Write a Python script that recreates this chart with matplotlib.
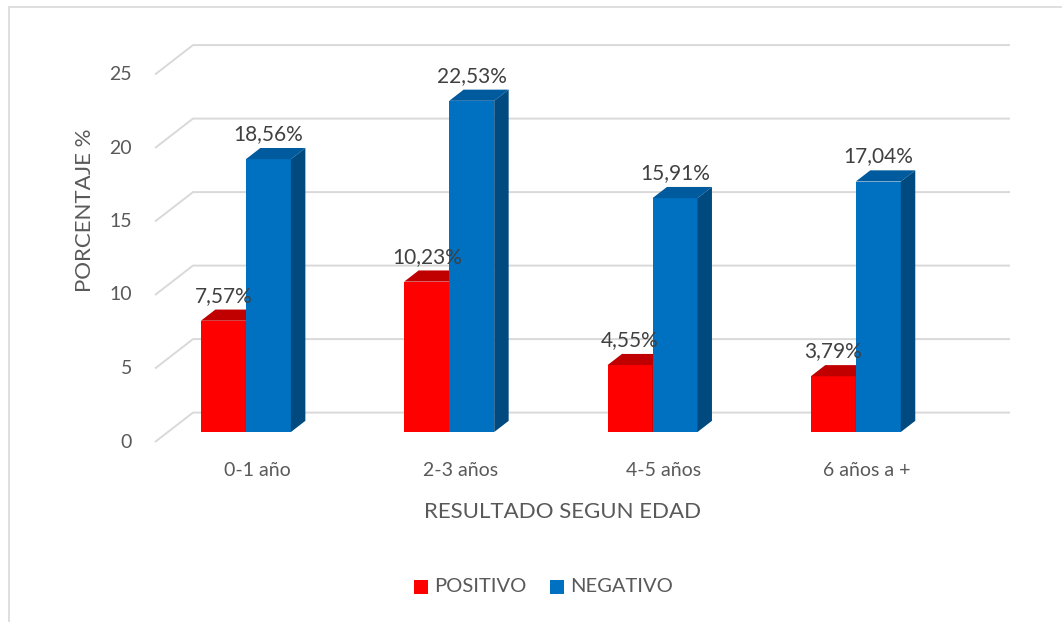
import numpy as np
import matplotlib.pyplot as plt
from matplotlib.patches import Polygon, Rectangle
import matplotlib.transforms as mtransforms

plt.rcParams['font.family'] = ['Lato', 'DejaVu Sans']

# Data
categorias = ['0-1 año', '2-3 años', '4-5 años', '6 años a +']
positivo = [7.57, 10.23, 4.55, 3.79]
negativo = [18.56, 22.53, 15.91, 17.04]
ticks_y = [0, 5, 10, 15, 20, 25]

# colours (Excel-like 3D column)
rojo = ('#FF0000', '#C00000', '#A00000')
azul = ('#0070C0', '#005A9E', '#004A7F')
grid_color = '#D9D9D9'
text_gray = '#595959'
label_gray = '#404040'

W, H = 1062, 622
fig = plt.figure(figsize=(W / 100, H / 100), dpi=100)
ax = fig.add_axes([0, 0, 1, 1])
ax.set_axis_off()

# scale of the fake 3D plot (pixels per category / per percent unit)
ppx, ppv = 203.3, 14.7
x_org, y_org = 233, 442
ax.set_xlim(-x_org / ppx, (W - x_org) / ppx)
ax.set_ylim((y_org - H) / ppv, y_org / ppv)

# depth vector of the whole plot (data units)
DX, DV = 38 / ppx, 29.4 / ppv
d0, d1 = 0.34, 0.72
bw = 45 / ppx

def px(x, y):
    # pixel position -> axes fraction
    return x / W, 1 - y / H

# outer border (only top and left visible)
ax.add_patch(Rectangle(px(9, 640), (W + 20) / W, (640 - 7) / H, transform=ax.transAxes,
                       fill=False, edgecolor='#D9D9D9', linewidth=1.2, clip_on=False))

# gridlines: side wall diagonal + back wall line
x_left = (155 - x_org) / ppx
x_right = (1010 - x_org) / ppx - DX
tick_tr = mtransforms.blended_transform_factory(ax.transAxes, ax.transData)
for t in ticks_y:
    ax.plot([x_left, x_left + DX, x_right + DX], [t, t + DV, t + DV],
            color=grid_color, linewidth=1.4, zorder=1, solid_capstyle='butt')
    ax.text(132 / W, t, str(t), transform=tick_tr,
            ha='right', va='center', fontsize=14, color=text_gray)


def bar3d(xl, v, colors):
    front, top, side = colors
    x0, v0 = xl + d0 * DX, d0 * DV
    ex, ev = (d1 - d0) * DX, (d1 - d0) * DV
    ax.add_patch(Polygon([(x0, v0), (x0 + bw, v0), (x0 + bw, v0 + v), (x0, v0 + v)],
                         closed=True, facecolor=front, edgecolor='none', zorder=3))
    ax.add_patch(Polygon([(x0, v0 + v), (x0 + bw, v0 + v), (x0 + bw + ex, v0 + v + ev), (x0 + ex, v0 + v + ev)],
                         closed=True, facecolor=top, edgecolor='none', zorder=3))
    ax.add_patch(Polygon([(x0 + bw, v0), (x0 + bw + ex, v0 + ev), (x0 + bw + ex, v0 + v + ev), (x0 + bw, v0 + v)],
                         closed=True, facecolor=side, edgecolor='none', zorder=3))
    ax.text(x0 + bw / 2, v0 + v + 1.7, f"{v:.2f}%".replace('.', ','), ha='center', va='center',
            fontsize=15, color=label_gray, zorder=5)


for i, (p, n) in enumerate(zip(positivo, negativo)):
    bar3d(i - bw, p, rojo)
    bar3d(i, n, azul)
    ax.text(i + 0.64 * DX, (y_org - 470) / ppv, categorias[i], ha='center', va='center',
            fontsize=14, color=text_gray)

# axis titles
ax.text(*px(563, 512), 'RESULTADO SEGUN EDAD', transform=ax.transAxes, ha='center', va='center',
        fontsize=16, color=text_gray)
ax.text(*px(85, 210), 'PORCENTAJE %', transform=ax.transAxes, ha='center', va='center',
        rotation=90, fontsize=16, color=text_gray)

# legend
for (x_sq, label, col) in [(414, 'POSITIVO', rojo[0]), (550, 'NEGATIVO', azul[0])]:
    ax.add_patch(Rectangle(px(x_sq, 594), 14 / W, 14 / H, transform=ax.transAxes,
                           facecolor=col, edgecolor='none'))
    ax.text(*px(x_sq + 20, 587), label, transform=ax.transAxes, ha='left', va='center',
            fontsize=14.5, color=text_gray)

fig.savefig('out.png', dpi=100)
